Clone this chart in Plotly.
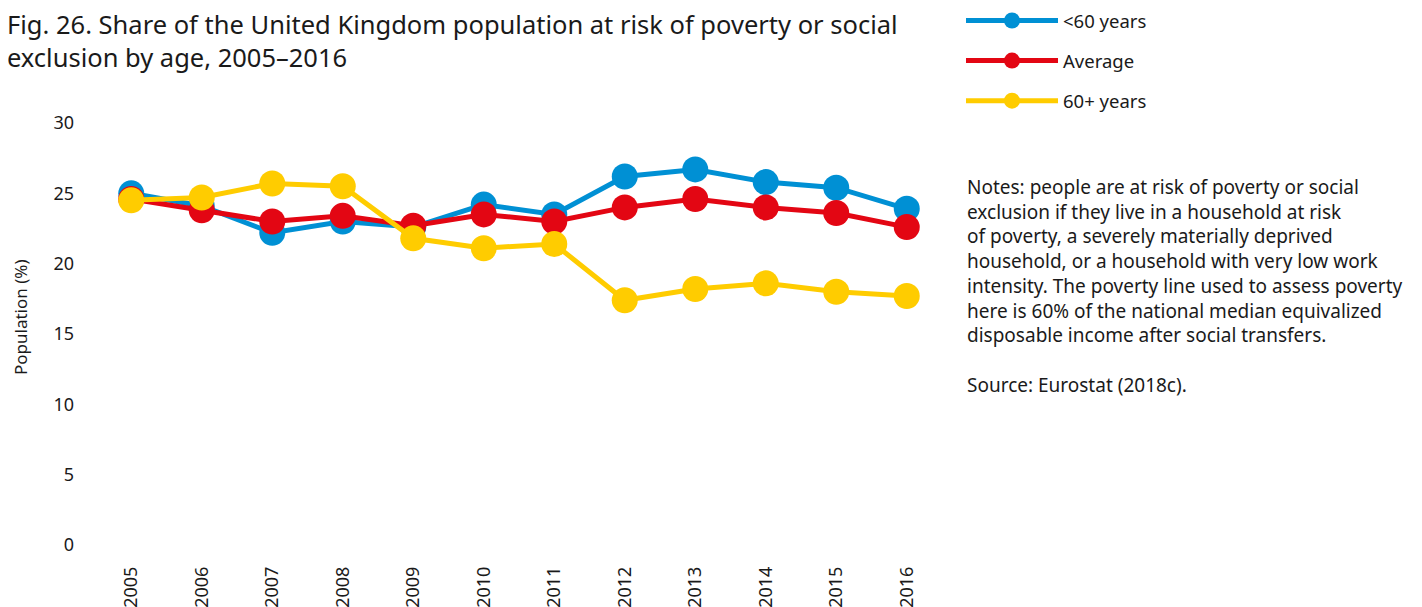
import plotly.graph_objects as go

years = [2005, 2006, 2007, 2008, 2009, 2010, 2011, 2012, 2013, 2014, 2015, 2016]
under60 = [25.0, 24.1, 22.2, 23.0, 22.6, 24.2, 23.5, 26.2, 26.7, 25.8, 25.4, 23.9]
average = [24.6, 23.8, 23.0, 23.4, 22.7, 23.5, 23.0, 24.0, 24.6, 24.0, 23.6, 22.6]
over60 = [24.5, 24.7, 25.7, 25.5, 21.8, 21.1, 21.4, 17.4, 18.2, 18.6, 18.0, 17.7]
series_names = ["<60 years", "Average", "60+ years"]
series_colors = ["#0090d4", "#e30613", "#ffcc00"]
y_ticks = [0, 5, 10, 15, 20, 25, 30]

FONT = "Noto Sans"
TXT = "#1a1a1a"

# page body offset compensation
OFF = 8
L, T = 96 - OFF, 123 - OFF
PW, PH = 846, 422
R, B = 1422 - L - PW, 607 - T - PH


def px_x(sx):
    """screen x -> paper x"""
    return (sx - OFF - L) / PW


def px_y(sy):
    """screen y -> paper y"""
    return 1 - (sy - OFF - T) / PH


fig = go.Figure()
for name, vals, col in zip(series_names, [under60, average, over60], series_colors):
    fig.add_trace(go.Scatter(
        x=years, y=vals, name=name, mode="lines+markers",
        line=dict(color=col, width=5),
        marker=dict(color=col, size=26),
        legendgroup=name, cliponaxis=False,
    ))

title = ("Fig. 26. Share of the United Kingdom population at risk of poverty or social<br>"
         "exclusion by age, 2005–2016")
notes = ("Notes: people are at risk of poverty or social<br>"
         "exclusion if they live in a household at risk<br>"
         "of poverty, a severely materially deprived<br>"
         "household, or a household with very low work<br>"
         "intensity. The poverty line used to assess poverty<br>"
         "here is 60% of the national median equivalized<br>"
         "disposable income after social transfers.<br>"
         "<br>"
         "Source: Eurostat (2018c).")

fig.update_layout(
    width=1422, height=607,
    margin=dict(l=L, r=R, t=T, b=B, autoexpand=False),
    paper_bgcolor="white", plot_bgcolor="white",
    font=dict(family=FONT, color=TXT, size=16),
    showlegend=True,
    legend=dict(
        xref="container", yref="paper",
        x=953 / 1422, y=px_y(2), xanchor="left", yanchor="top",
        font=dict(size=18.5, family=FONT, color=TXT),
        itemwidth=92, traceorder="grouped", tracegroupgap=13,
        itemsizing="trace",
        bgcolor="rgba(0,0,0,0)",
    ),
    xaxis=dict(
        range=[2004.5, 2016.5], tickmode="array", tickvals=years,
        ticktext=[str(y) for y in years], tickangle=-90,
        showgrid=False, zeroline=False, showline=False, ticks="",
        tickfont=dict(size=18, family=FONT, color=TXT),
        automargin=False, ticklabelstandoff=17,
    ),
    yaxis=dict(
        range=[0, 30], tickmode="array", tickvals=y_ticks,
        showgrid=False, zeroline=False, showline=False, ticks="",
        tickfont=dict(size=18, family=FONT, color=TXT),
        ticklabelstandoff=21, automargin=False,
    ),
)

fig.add_annotation(
    xref="paper", yref="paper", x=px_x(5), y=px_y(5),
    showarrow=False, text=title, align="left", xanchor="left", yanchor="top",
    font=dict(size=25.5, family=FONT, color=TXT),
)

fig.add_annotation(
    xref="paper", yref="paper", x=px_x(20), y=px_y(317),
    showarrow=False, text="Population (%)", textangle=-90,
    xanchor="center", yanchor="middle",
    font=dict(size=17, family=FONT, color=TXT),
)

fig.add_annotation(
    xref="paper", yref="paper", x=px_x(965), y=px_y(172),
    showarrow=False, text=notes, align="left", xanchor="left", yanchor="top",
    font=dict(size=19, family=FONT, color=TXT),
)

fig.write_html("out.html")
